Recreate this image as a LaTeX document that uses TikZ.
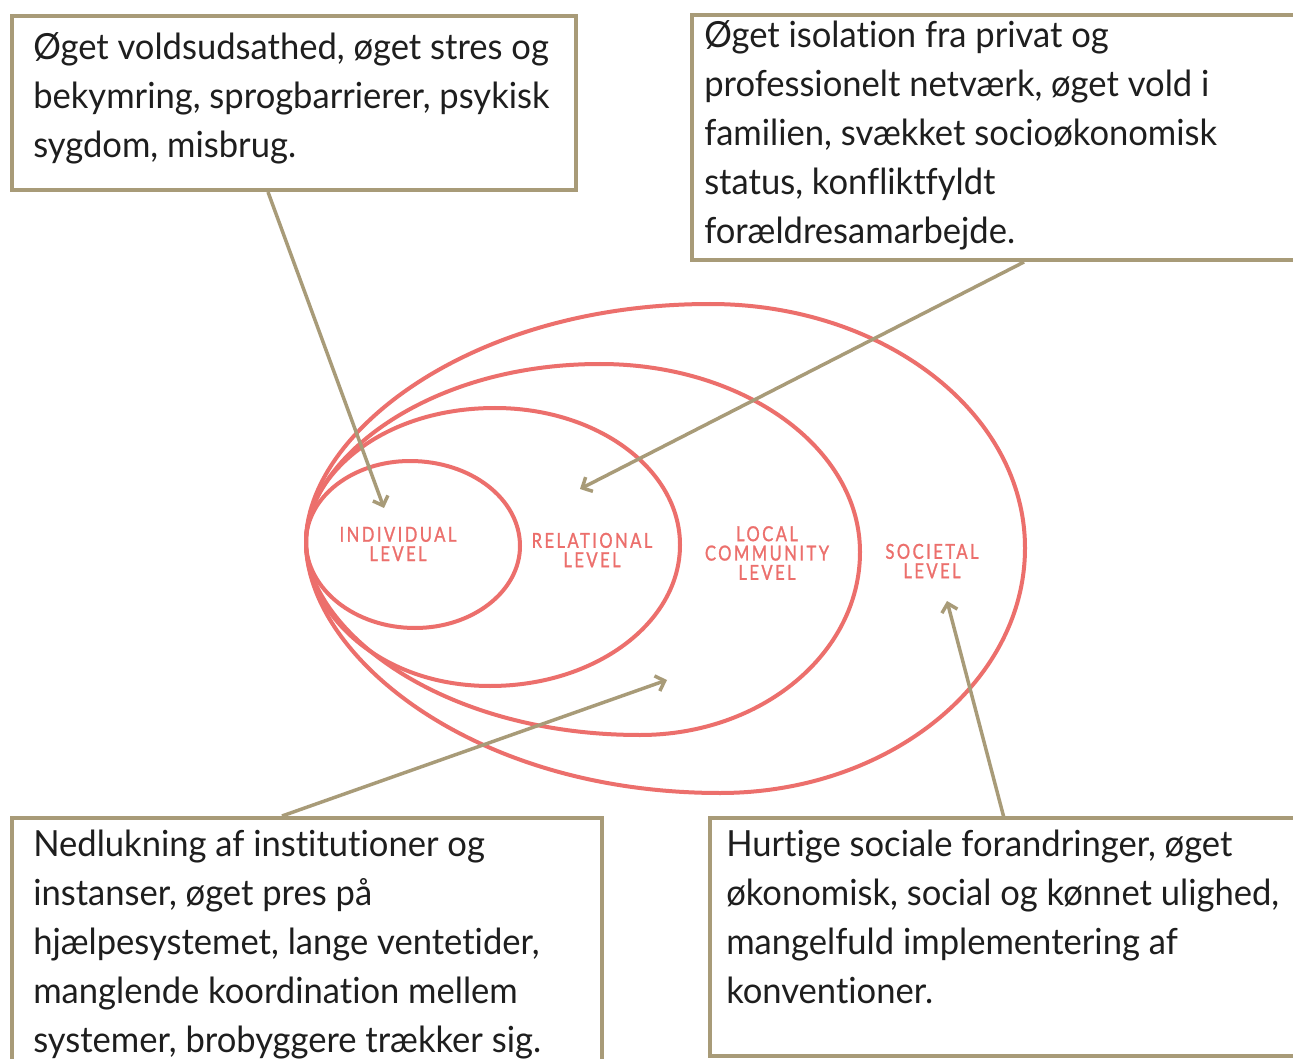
\documentclass[tikz,border=0pt]{standalone}
\usepackage{fontspec}
\setmainfont{Lato}
\newfontfamily\boxfont[FakeStretch=0.96,Ligatures={NoCommon}]{Lato}
\newfontfamily\lvlfont[LetterSpace=12,FakeStretch=0.8,FakeBold=1.2]{Lato}
\usetikzlibrary{arrows.meta}
\definecolor{boxtan}{HTML}{A89B78}
\definecolor{ringred}{HTML}{EC6F6C}
\definecolor{txtblack}{HTML}{1E1E1E}
\tikzset{
  box/.style={draw=boxtan, line width=3.5pt, fill=white, inner sep=0pt, outer sep=0pt, anchor=north west},
  boxtext/.style={anchor=north west, inner sep=0pt, align=left, text=txtblack,
    font=\boxfont\fontsize{27}{36.75}\selectfont},
  ring/.style={draw=ringred, line width=3pt},
  lvl/.style={align=center, text=ringred, inner sep=0pt, font=\lvlfont\fontsize{15.5}{14.5}\selectfont},
  pointer/.style={draw=boxtan, line width=2.6pt, -{Straight Barb[length=6pt,width=12pt]}}
}
\begin{document}
\begin{tikzpicture}[x=0.75pt,y=-0.75pt]
\clip (0,0) rectangle (1293,1059);
\fill[white] (0,0) rectangle (1293,1059);

% rings
\draw[ring] (306,542) .. controls (306,435) and (468,304) .. (710,304)
  .. controls (884,304) and (1025,413) .. (1025,548)
  .. controls (1025,683) and (888,793) .. (720,793)
  .. controls (472,793) and (306,655) .. (306,542) -- cycle;
\draw[ring] (306,542) .. controls (306,462) and (424,364) .. (600,364)
  .. controls (744,364) and (860,448) .. (860,552)
  .. controls (860,653) and (762,735) .. (640,735)
  .. controls (440,735) and (306,629) .. (306,542) -- cycle;
\draw[ring] (306,542) .. controls (306,475) and (382,408) .. (495,408)
  .. controls (597,408) and (680,469) .. (680,545)
  .. controls (680,623) and (595,686) .. (490,686)
  .. controls (380,686) and (306,614) .. (306,542) -- cycle;
\draw[ring] (306,542) .. controls (306,497) and (353,461) .. (410,461)
  .. controls (471,461) and (520,499) .. (520,546)
  .. controls (520,591) and (473,628) .. (415,628)
  .. controls (355,628) and (306,589) .. (306,542) -- cycle;

% level labels
\node[lvl] (lind) at (398,544) {INDIVIDUAL\\LEVEL};
\node[lvl] (lrel) at (592,550) {RELATIONAL\\LEVEL};
\node[lvl] (lloc) at (767,553) {LOCAL\\COMMUNITY\\LEVEL};
\node[lvl] (lsoc) at (932,561) {SOCIETAL\\LEVEL};

% boxes
\node[box, minimum width=423pt, minimum height=130.5pt] (b1) at (12,16) {};
\node[box, minimum width=465pt, minimum height=183.75pt] (b2) at (692,15) {};
\node[box, minimum width=442.5pt, minimum height=195pt] (b3) at (12,818) {};
\node[box, minimum width=450pt, minimum height=178.5pt] (b4) at (710,818) {};

\node[boxtext] (t1) at (33,32) {Øget voldsudsathed, øget stres og\\bekymring, sprogbarrierer, psykisk\\sygdom, misbrug.};
\node[boxtext] (t2) at (704,20) {Øget isolation fra privat og\\professionelt netværk, øget vold i\\familien, svækket socioøkonomisk\\status, konfliktfyldt\\forældresamarbejde.};
\node[boxtext] (t3) at (33,830) {Nedlukning af institutioner og\\instanser, øget pres på\\hjælpesystemet, lange ventetider,\\manglende koordination mellem\\systemer, brobyggere trækker sig.};
\node[boxtext] (t4) at (726,830) {Hurtige sociale forandringer, øget\\økonomisk, social og kønnet ulighed,\\mangelfuld implementering af\\konventioner.};

% connector end points
\coordinate (s1) at (268,192);
\coordinate (e1) at (384,508);
\coordinate (s2) at (1024,262);
\coordinate (e2) at (580,489);
\coordinate (s3) at (282,816);
\coordinate (e3) at (667,680);
\coordinate (s4) at (1004,818);
\coordinate (e4) at (947,601);

\draw[pointer] (s1) -- (e1);
\draw[pointer] (s2) -- (e2);
\draw[pointer] (s3) -- (e3);
\draw[pointer] (s4) -- (e4);
\end{tikzpicture}
\end{document}
